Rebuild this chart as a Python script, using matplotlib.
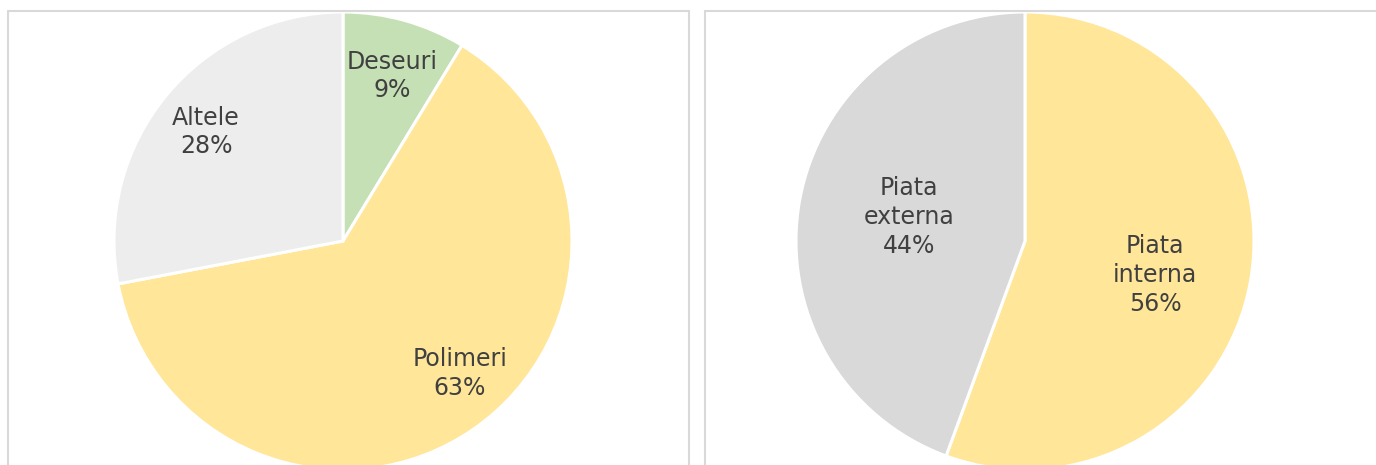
import matplotlib
matplotlib.use("Agg")
import matplotlib.pyplot as plt
from matplotlib.patches import Rectangle

# ====== DATA ======
left_labels = ["Deseuri", "Polimeri", "Altele"]
left_values = [8.7, 63.3, 28.0]
left_colors = ["#C5E0B4", "#FFE699", "#EDEDED"]

right_labels = ["Piata\ninterna", "Piata\nexterna"]
right_values = [55.6, 44.4]
right_colors = ["#FFE699", "#D9D9D9"]

# label anchor (in units of pie radius)
left_label_pos = [(0.214, 0.721), (0.511, -0.579), (-0.598, 0.476)]
right_label_pos = [(0.568, -0.148), (-0.507, 0.105)]

W, H = 1376, 465
fig = plt.figure(figsize=(W / 100, H / 100), dpi=100)

# ====== PANEL BORDERS ======
for x0, x1 in [(8, 689), (705, 1390)]:
    fig.patches.append(Rectangle((x0 / W, -0.1), (x1 - x0) / W, (H - 11) / H + 0.1,
                                 transform=fig.transFigure, fill=False,
                                 edgecolor="#D9D9D9", linewidth=1.5))


def draw_pie(cx, cy, r, labels, values, colors, label_pos):
    ax = fig.add_axes([(cx - r) / W, (H - cy - r) / H, 2 * r / W, 2 * r / H])
    texts = [f"{n}\n{round(v)}%" for n, v in zip(labels, values)]
    _, txts = ax.pie(values, labels=texts, colors=colors, startangle=90,
                     counterclock=False, radius=1,
                     wedgeprops=dict(edgecolor="white", linewidth=2.2),
                     textprops=dict(color="#404040", fontsize=17, ha="center",
                                    va="center", linespacing=1.25))
    for t, p in zip(txts, label_pos):
        t.set_position(p)
    ax.set_xlim(-1, 1)
    ax.set_ylim(-1, 1)
    ax.axis("off")
    return ax


draw_pie(343, 241, 229, left_labels, left_values, left_colors, left_label_pos)
draw_pie(1025, 241, 229, right_labels, right_values, right_colors, right_label_pos)

plt.savefig("out.png", dpi=100)
plt.close()
